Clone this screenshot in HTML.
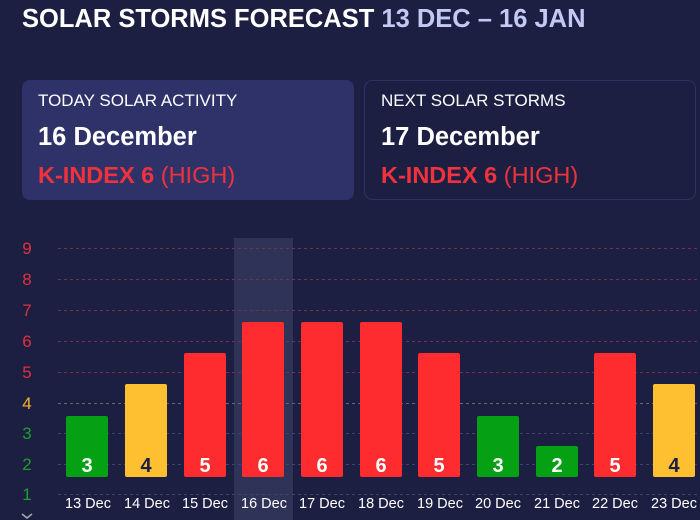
<!DOCTYPE html>
<html><head><meta charset="utf-8"><style>
html,body{margin:0;padding:0;background:#1c1f42;width:700px;height:520px;overflow:hidden;font-family:"Liberation Sans",Arial,sans-serif}
</style></head><body>
<svg width="700" height="520" xmlns="http://www.w3.org/2000/svg" font-family="Liberation Sans, Arial, sans-serif">
<rect width="700" height="520" fill="#1c1f42"/>
<text x="22" y="27" font-size="25.5" font-weight="bold" fill="#fff">SOLAR STORMS FORECAST <tspan fill="#c3c8f5">13 DEC – 16 JAN</tspan></text>
<rect x="22" y="80" width="332" height="120" rx="8" fill="#2e3269"/>
<text x="38" y="106" font-size="17" fill="#fff">TODAY SOLAR ACTIVITY</text>
<text x="38" y="145" font-size="25.5" font-weight="bold" fill="#fff">16 December</text>
<text x="38" y="183" font-size="23.5" fill="#f0323c"><tspan font-weight="bold">K-INDEX 6</tspan> (HIGH)</text>
<rect x="364.5" y="80.5" width="331" height="119" rx="8" fill="#1c1f42" stroke="#2e3262"/>
<text x="381" y="106" font-size="17" fill="#fff">NEXT SOLAR STORMS</text>
<text x="381" y="145" font-size="25.5" font-weight="bold" fill="#fff">17 December</text>
<text x="381" y="183" font-size="23.5" fill="#f0323c"><tspan font-weight="bold">K-INDEX 6</tspan> (HIGH)</text>
<rect x="234" y="238" width="59" height="282" fill="#2f3358"/>
<g stroke-dasharray="3,3" stroke-width="1">
<line x1="58" x2="700" y1="248.5" y2="248.5" stroke="#7a2f48"/>
<line x1="58" x2="700" y1="279.5" y2="279.5" stroke="#7a2f48"/>
<line x1="58" x2="700" y1="310.5" y2="310.5" stroke="#7a2f48"/>
<line x1="58" x2="700" y1="341.5" y2="341.5" stroke="#7a2f48"/>
<line x1="58" x2="700" y1="372.5" y2="372.5" stroke="#7a2f48"/>
<line x1="58" x2="700" y1="403.5" y2="403.5" stroke="#6a6660"/>
<line x1="58" x2="700" y1="433.5" y2="433.5" stroke="#3e4470"/>
<line x1="58" x2="700" y1="464.5" y2="464.5" stroke="#3e4470"/>
<line x1="58" x2="700" y1="494.5" y2="494.5" stroke="#3e4470"/>
</g>
<g font-size="17" text-anchor="middle">
<text x="27" y="254" fill="#e0303e">9</text>
<text x="27" y="285" fill="#e0303e">8</text>
<text x="27" y="316" fill="#e0303e">7</text>
<text x="27" y="347" fill="#e0303e">6</text>
<text x="27" y="378" fill="#e0303e">5</text>
<text x="27" y="409" fill="#f4b42c">4</text>
<text x="27" y="439" fill="#17a02a">3</text>
<text x="27" y="470" fill="#17a02a">2</text>
<text x="27" y="500" fill="#17a02a">1</text>
</g>
<path d="M22 514 l5 4 l5 -4" stroke="#aaa" fill="none" stroke-width="1.5"/>
<g>
<rect x="66" y="416" width="42" height="61" rx="2" fill="#06a014"/>
<rect x="125" y="384" width="42" height="93" rx="2" fill="#fec030"/>
<rect x="184" y="353" width="42" height="124" rx="2" fill="#fe2c2e"/>
<rect x="242" y="322" width="42" height="155" rx="2" fill="#fe2c2e"/>
<rect x="301" y="322" width="42" height="155" rx="2" fill="#fe2c2e"/>
<rect x="360" y="322" width="42" height="155" rx="2" fill="#fe2c2e"/>
<rect x="418" y="353" width="42" height="124" rx="2" fill="#fe2c2e"/>
<rect x="477" y="416" width="42" height="61" rx="2" fill="#06a014"/>
<rect x="536" y="446" width="42" height="31" rx="2" fill="#06a014"/>
<rect x="594" y="353" width="42" height="124" rx="2" fill="#fe2c2e"/>
<rect x="653" y="384" width="42" height="93" rx="2" fill="#fec030"/>
</g>
<g font-size="20" font-weight="bold" text-anchor="middle" fill="#fff">
<text x="87" y="472">3</text>
<text x="146" y="472" fill="#1c1f42">4</text>
<text x="205" y="472">5</text>
<text x="263" y="472">6</text>
<text x="322" y="472">6</text>
<text x="381" y="472">6</text>
<text x="439" y="472">5</text>
<text x="498" y="472">3</text>
<text x="557" y="472">2</text>
<text x="615" y="472">5</text>
<text x="674" y="472" fill="#1c1f42">4</text>
</g>
<g font-size="14.5" text-anchor="middle" fill="#fff">
<text x="88" y="508">13 Dec</text>
<text x="147" y="508">14 Dec</text>
<text x="205" y="508">15 Dec</text>
<text x="264" y="508">16 Dec</text>
<text x="322" y="508">17 Dec</text>
<text x="381" y="508">18 Dec</text>
<text x="440" y="508">19 Dec</text>
<text x="498" y="508">20 Dec</text>
<text x="557" y="508">21 Dec</text>
<text x="615" y="508">22 Dec</text>
<text x="674" y="508">23 Dec</text>
</g>
</svg>
</body></html>
